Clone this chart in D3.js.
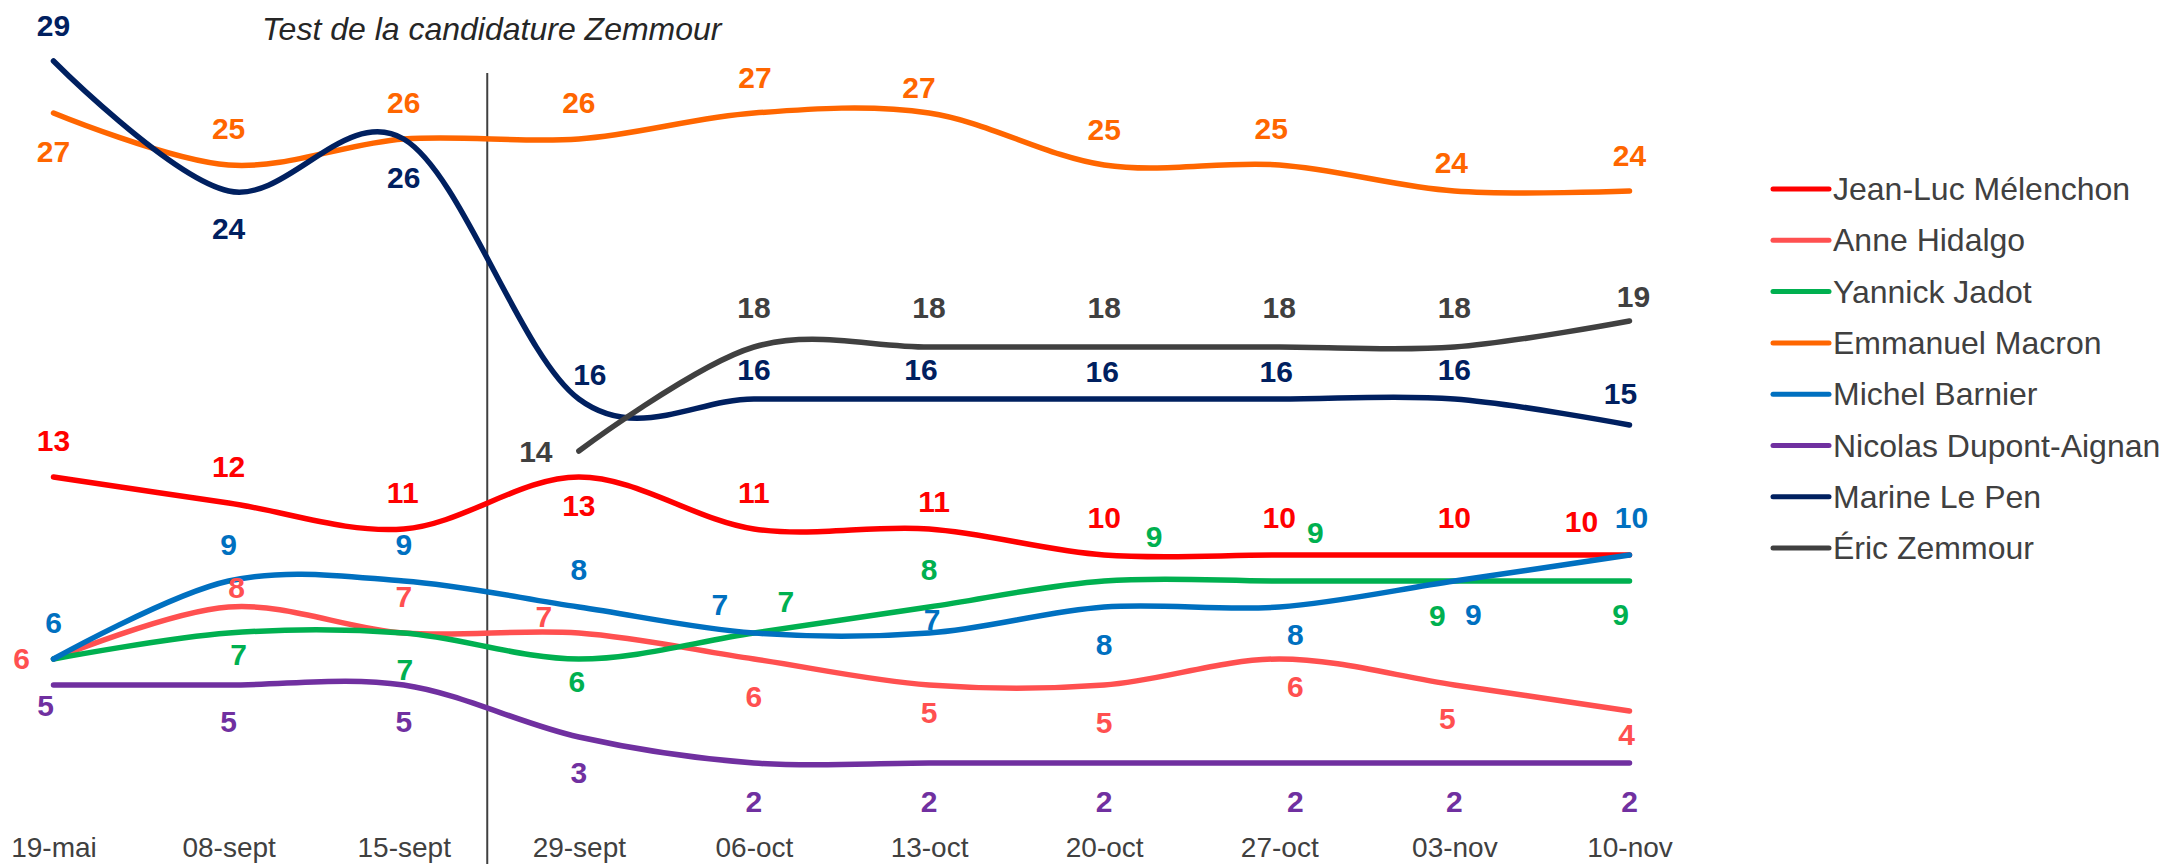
<!DOCTYPE html>
<html>
<head>
<meta charset="utf-8">
<script src="https://cdn.jsdelivr.net/npm/d3@7"></script>
<style>
  html, body { margin: 0; padding: 0; background: #ffffff; }
  svg { display: block; }
  text { font-family: "Liberation Sans", Arial, sans-serif; }
</style>
</head>
<body>
<svg id="chart" width="2164" height="864"></svg>
<script>
// ---------- DATA ----------
const categories = ["19-mai", "08-sept", "15-sept", "29-sept", "06-oct", "13-oct", "20-oct", "27-oct", "03-nov", "10-nov"];
const seriesNames = ["Jean-Luc Mélenchon", "Anne Hidalgo", "Yannick Jadot", "Emmanuel Macron", "Michel Barnier", "Nicolas Dupont-Aignan", "Marine Le Pen", "Éric Zemmour"];
const melenchon = [13, 12, 11, 13, 11, 11, 10, 10, 10, 10];
const hidalgo   = [6, 8, 7, 7, 6, 5, 5, 6, 5, 4];
const jadot     = [6, 7, 7, 6, 7, 8, 9, 9, 9, 9];
const macron    = [27, 25, 26, 26, 27, 27, 25, 25, 24, 24];
const barnier   = [6, 9, 9, 8, 7, 7, 8, 8, 9, 10];
const dupontAignan = [5, 5, 5, 3, 2, 2, 2, 2, 2, 2];
const lePen     = [29, 24, 26, 16, 16, 16, 16, 16, 16, 15];
const zemmour   = [null, null, null, 14, 18, 18, 18, 18, 18, 19];
const titleText = "Test de la candidature Zemmour";
const separatorAfter = "15-sept";

// ---------- STYLE ----------
const seriesValues = [melenchon, hidalgo, jadot, macron, barnier, dupontAignan, lePen, zemmour];
const colors = ["#FF0000", "#FF5050", "#00B050", "#FF6600", "#0070C0", "#7030A0", "#002060", "#404040"];
// label offsets [dx, dy(baseline)] relative to the point; null = label hidden
const labelOffsets = [
  [[0,-26],[0,-26],[-1,-26],[0,39],[0,-26],[5,-17],[0,-27],[0,-27],[0,-27],[-48,-23]],
  [[-32,10],[8,-9],[0,-26],[-35,-6],[0,48],[0,38],[0,48],[16,38],[-7,44],[-3,34]],
  [null,[10,32],[1,47],[-2,33],[32,-21],[0,-27],[50,-34],[36,-38],[-17,45],[-9,44]],
  [[0,49],[0,-26],[0,-26],[0,-26],[1,-25],[-10,-15],[0,-25],[-8,-26],[-3,-18],[0,-25]],
  [[0,-26],[0,-26],[0,-26],[0,-27],[-34,-18],[3,-3],[0,48],[16,38],[19,44],[2,-27]],
  [[-8,31],[0,47],[0,47],[0,46],[0,49],[0,49],[0,49],[16,49],[0,49],[0,49]],
  [[0,-25],[0,48],[0,49],[11,-14],[0,-19],[-8,-19],[-2,-17],[-3,-17],[0,-19],[-9,-21]],
  [null,null,null,[-43,11],[0,-29],[0,-29],[0,-29],[0,-29],[0,-29],[4,-14]]
];

const svg = d3.select("#chart");

const x = d3.scalePoint().domain(categories).range([53.5, 1629.5]);
const y = d3.scaleLinear().domain([0, 30]).range([815, 35]);

// Title
svg.append("text")
  .attr("x", 262).attr("y", 40)
  .attr("font-size", 32).attr("font-style", "italic")
  .attr("fill", "#262626")
  .text(titleText);

// Separator line
const sepX = x(separatorAfter) + x.step() * 0.477;
svg.append("line")
  .attr("x1", sepX).attr("x2", sepX)
  .attr("y1", 73).attr("y2", 864)
  .attr("stroke", "#404040").attr("stroke-width", 2);

// X axis (labels only)
const xAxis = d3.axisBottom(x).tickSize(0).tickPadding(0);
const gx = svg.append("g").attr("transform", "translate(0,857)").call(xAxis);
gx.select(".domain").remove();
gx.selectAll("text")
  .attr("y", 0).attr("dy", 0)
  .attr("font-size", 28)
  .attr("font-family", "'Liberation Sans', Arial, sans-serif")
  .attr("fill", "#404040");

// Lines
const line = d3.line()
  .defined(d => d != null)
  .x((d, i) => x(categories[i]))
  .y(d => y(d))
  .curve(d3.curveCatmullRom.alpha(0));

seriesValues.forEach((vals, s) => {
  svg.append("path")
    .datum(vals)
    .attr("fill", "none")
    .attr("stroke", colors[s])
    .attr("stroke-width", 5.5)
    .attr("stroke-linecap", "round")
    .attr("stroke-linejoin", "round")
    .attr("d", line);
});

// Data labels
seriesValues.forEach((vals, s) => {
  const g = svg.append("g");
  vals.forEach((v, i) => {
    const off = labelOffsets[s][i];
    if (v == null || off == null) return;
    g.append("text")
      .attr("x", x(categories[i]) + off[0])
      .attr("y", y(v) + off[1])
      .attr("text-anchor", "middle")
      .attr("font-size", 30)
      .attr("font-weight", "bold")
      .attr("fill", colors[s])
      .text(v);
  });
});

// Legend
const legend = svg.append("g");
seriesNames.forEach((name, i) => {
  const ly = 189 + i * 51.3;
  legend.append("line")
    .attr("x1", 1773).attr("x2", 1829)
    .attr("y1", ly).attr("y2", ly)
    .attr("stroke", colors[i]).attr("stroke-width", 5)
    .attr("stroke-linecap", "round");
  legend.append("text")
    .attr("x", 1833).attr("y", ly + 11)
    .attr("font-size", 32)
    .attr("fill", "#404040")
    .text(name);
});
</script>
</body>
</html>
